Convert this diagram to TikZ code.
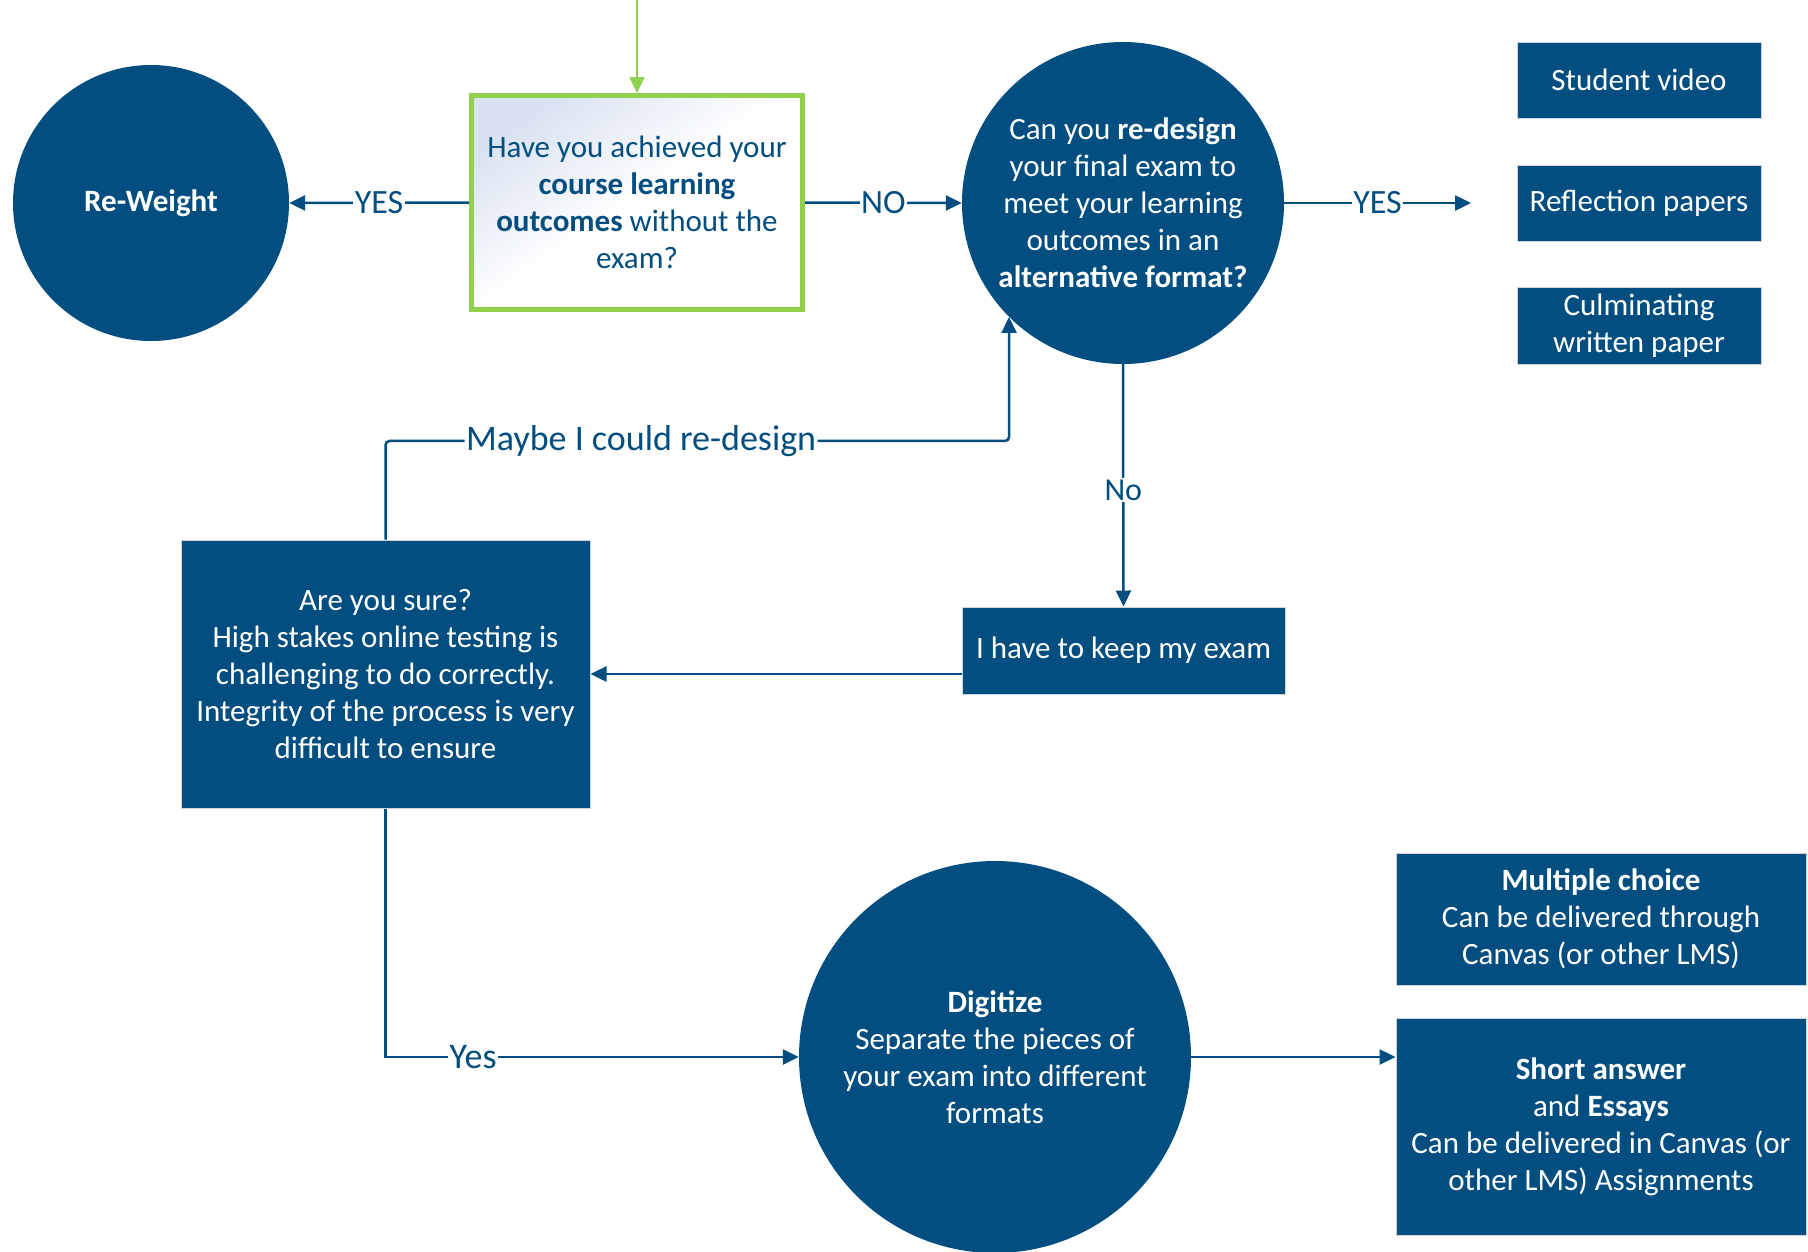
\documentclass[tikz,border=0pt]{standalone}
\usepackage{fontspec}
\setmainfont{Carlito}
\usetikzlibrary{arrows.meta,calc}
\definecolor{dblue}{RGB}{2,78,128}
\definecolor{lgreen}{RGB}{146,208,80}
\definecolor{shadeblue}{RGB}{218,227,242}
\definecolor{edgegray}{RGB}{208,212,218}
\tikzset{
  bodyfont/.style={font=\fontsize{31}{37}\selectfont},
  bluecircle/.style={circle, fill=dblue, text=white, align=center, inner sep=0pt, bodyfont},
  bluebox/.style={rectangle, fill=dblue, draw=edgegray, line width=1pt, text=white, align=center, inner sep=0pt, bodyfont},
  conn/.style={draw=dblue, line width=2.5pt},
  arr/.style={conn, -{Triangle[length=16pt,width=15pt]}},
  lbl/.style={fill=white, text=dblue, inner sep=1.5pt, font=\fontsize{34}{38}\selectfont},
  smalllbl/.style={fill=white, text=dblue, inner sep=1.5pt, font=\fontsize{32}{36}\selectfont},
  biglbl/.style={fill=white, text=dblue, inner sep=1.5pt, font=\fontsize{36}{40}\selectfont},
}
\begin{document}
\begin{tikzpicture}[x=1pt,y=-1pt]
\useasboundingbox (0,0) rectangle (1808,1251);

% nodes
\node[bluecircle, minimum size=276pt] (rw) at (151,203) {\textbf{Re-Weight}};
\node[rectangle, draw=lgreen, line width=5pt, top color=shadeblue, bottom color=white, middle color=white, shading angle=35,
      text=dblue, align=center, bodyfont, minimum width=331pt, minimum height=214pt, inner sep=0pt] (q1) at (637,202.5)
  {Have you achieved your\\ \textbf{course learning}\\ \textbf{outcomes} without the\\ exam?};
\node[bluecircle, minimum size=322pt] (c2) at (1123,203)
  {Can you \textbf{re-design}\\ your final exam to\\ meet your learning\\ outcomes in an\\ \textbf{alternative format?}};
\node[bluebox, minimum width=244pt, minimum height=76pt] (sv) at (1639,80) {Student video};
\node[bluebox, minimum width=244pt, minimum height=76pt] (rp) at (1639,203) {Reflection papers};
\node[bluebox, minimum width=244pt, minimum height=77pt] (cw) at (1639,325.5) {Culminating\\ written paper};
\node[bluebox, minimum width=323pt, minimum height=87pt] (keep) at (1123.5,650.5) {I have to keep my exam};
\node[bluebox, minimum width=409pt, minimum height=268pt] (sure) at (385.5,674)
  {Are you sure?\\ High stakes online testing is\\ challenging to do correctly.\\ Integrity of the process is very\\ difficult to ensure};
\node[bluecircle, minimum size=392pt] (dig) at (995,1057)
  {\textbf{Digitize}\\ Separate the pieces of\\ your exam into different\\ formats};
\node[bluebox, minimum width=410pt, minimum height=132pt] (mc) at (1601,919)
  {\textbf{Multiple choice}\\ Can be delivered through\\ Canvas (or other LMS)};
\node[bluebox, minimum width=410pt, minimum height=217pt] (sa) at (1601,1126.5)
  {\textbf{Short answer}\\ and \textbf{Essays}\\ Can be delivered in Canvas (or\\ other LMS) Assignments};

\coordinate (start) at (637,0);
\coordinate (yesend) at (1471,203);

% connectors
\draw[arr, draw=lgreen] (start) -- (q1.north);
\draw[arr] (q1.west) -- node[lbl]{YES} (rw.east);
\draw[arr] (q1.east) -- node[lbl]{NO} (c2.west);
\draw[arr] (c2.east) -- node[lbl]{YES} (yesend);
\draw[arr] (c2.south) -- node[smalllbl, pos=0.52]{No} (keep.north);
\draw[arr] (keep.west |- sure.east) -- (sure.east);
\draw[arr, rounded corners=4pt] (sure.north) |- node[biglbl, pos=0.705]{Maybe I could re-design} ($(c2.225.6)+(0,124)$) -- (c2.225.6);
\draw[arr] (sure.south) |- node[biglbl, pos=0.606]{Yes} (dig.west);
\draw[arr] (dig.east) -- (sa.west |- dig.east);
\end{tikzpicture}
\end{document}
